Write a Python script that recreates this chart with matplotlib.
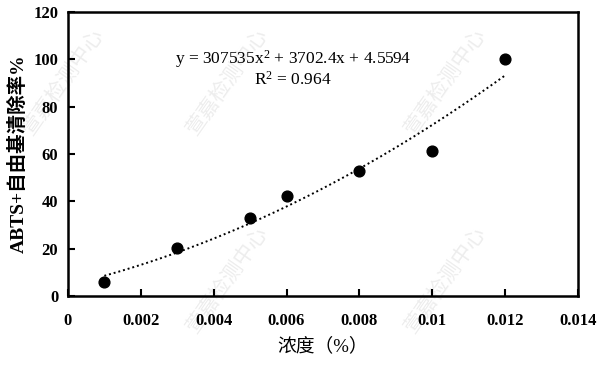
import numpy as np
import matplotlib
matplotlib.use("Agg")
import matplotlib.pyplot as plt

conc = [0.001, 0.003, 0.005, 0.006, 0.008, 0.010, 0.012]
rate = [5.9, 20.3, 33.0, 42.5, 53.0, 61.5, 100.0]
coef = [307535, 3702.4, 4.5594]
xticks = [0, 0.002, 0.004, 0.006, 0.008, 0.01, 0.012, 0.014]
xticklabels = ["0", "0.002", "0.004", "0.006", "0.008", "0.01", "0.012", "0.014"]
yticks = [0, 20, 40, 60, 80, 100, 120]

plt.rcParams["mathtext.fontset"] = "custom"
plt.rcParams["mathtext.rm"] = "Liberation Serif"
plt.rcParams["mathtext.it"] = "Liberation Serif:italic"
plt.rcParams["mathtext.bf"] = "Liberation Serif:bold"

serif = ["Liberation Serif", "Noto Sans CJK SC"]
cjk = ["Noto Sans CJK SC", "Liberation Serif"]

fig = plt.figure(figsize=(6.06, 3.66), dpi=100)
ax = fig.add_axes([0.112, 0.191, 0.842, 0.776], zorder=1)
ax.patch.set_alpha(0)

# faint watermarks (behind the axes)
wm = "萱嘉检测中心"
for (wx, wy) in [(0.03, 0.62), (0.30, 0.62), (0.66, 0.62), (0.30, 0.08), (0.66, 0.08)]:
    fig.text(wx, wy, wm, rotation=55, fontsize=15, color="#ededed",
             family=cjk, ha="left", va="bottom", zorder=-1)

xs = np.linspace(conc[0], conc[-1], 200)
ax.plot(xs, np.polyval(coef, xs), linestyle=(0, (1, 1.5)), color="black", linewidth=1.4, zorder=2)
ax.scatter(conc, rate, s=60, color="black", zorder=3)

ax.set_xlim(0, 0.014)
ax.set_ylim(0, 120)
ax.set_xticks(xticks)
ax.set_xticklabels(xticklabels)
ax.set_yticks(yticks)
ax.tick_params(direction="in", length=5, width=1.5, top=False, right=False)
ax.tick_params(axis="x", pad=12)
ax.tick_params(axis="y", pad=7)
for lbl in ax.get_xticklabels() + ax.get_yticklabels():
    lbl.set_fontfamily(serif)
    lbl.set_fontweight("bold")
    lbl.set_fontsize(12)
for sp in ax.spines.values():
    sp.set_linewidth(1.8)

ax.text(0.00617, 100, "y = 307535x$^2$ + 3702.4x + 4.5594", ha="center", va="center",
        fontsize=12.5, family=serif)
ax.text(0.00617, 91.5, "R$^2$ = 0.964", ha="center", va="center", fontsize=12.5, family=serif)

ax.set_xlabel("浓度（%）", family=serif, fontsize=13.5, labelpad=6)
ax.set_ylabel("ABTS+自由基清除率%", family=serif, fontsize=14, fontweight="bold", labelpad=4)

fig.savefig("out.png", dpi=100)
